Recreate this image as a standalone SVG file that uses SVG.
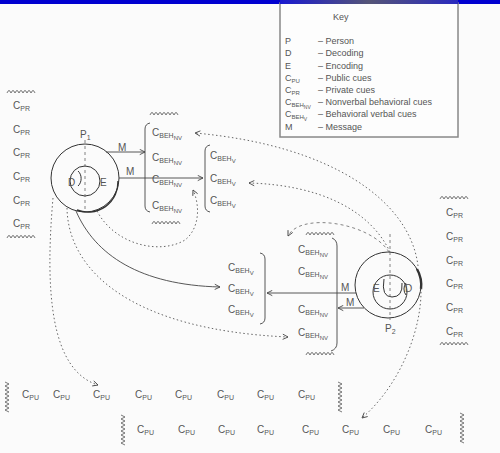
<svg xmlns="http://www.w3.org/2000/svg" width="500" height="453" viewBox="0 0 500 453">
<style>
text{font-family:"Liberation Sans",Arial,sans-serif;fill:#555;}
.c{font-size:10px;}
.s{font-size:7px;}
.ss{font-size:6px;}
.k{font-size:9px;}
.ln{fill:none;stroke:#444;stroke-width:0.9;}
.dt{fill:none;stroke:#555;stroke-width:0.9;stroke-dasharray:1.5,2.5;}
.ds{fill:none;stroke:#666;stroke-width:0.8;stroke-dasharray:3,3;}
.cir{fill:none;stroke:#333;stroke-width:1;}
.wv{fill:none;stroke:#555;stroke-width:0.8;}
</style>
<defs>
<marker id="ah" viewBox="0 0 8 8" refX="7" refY="4" markerWidth="7" markerHeight="7" orient="auto" markerUnits="userSpaceOnUse">
<path d="M1,1 L7,4 L1,7" fill="none" stroke="#444" stroke-width="1"/>
</marker>
<path id="wh" d="M0,3 q2,-5 4,0 q2,-5 4,0 q2,-5 4,0 q2,-5 4,0 q2,-5 4,0 q2,-5 4,0 q2,-5 4,0"/>
<path id="wvt" d="M0,0 l4,2 l-4,2 l4,2 l-4,2 l4,2 l-4,2 l4,2 l-4,2 l4,2 l-4,2 l4,2 l-4,2 l4,2 l-4,2 l4,2"/>
<linearGradient id="tg" x1="0" x2="1" y1="0" y2="0">
<stop offset="0" stop-color="#1a1ad0"/>
<stop offset="0.5" stop-color="#555577"/>
<stop offset="1" stop-color="#2a2ac0"/>
</linearGradient>
</defs>
<rect x="0" y="0" width="500" height="453" fill="#fbfbfb"/>
<rect x="0" y="0" width="500" height="4" fill="#0000d0"/>

<g id="key">
<rect x="280" y="3" width="178" height="134" fill="#fdfdfd" stroke="#888" stroke-width="1.5"/>
<rect x="280" y="0" width="178" height="4" fill="url(#tg)"/>
<text class="k" x="333" y="20">Key</text>
<text class="k" x="285" y="44">P</text><text class="k" x="318" y="44">– Person</text>
<text class="k" x="285" y="56">D</text><text class="k" x="318" y="56">– Decoding</text>
<text class="k" x="285" y="69">E</text><text class="k" x="318" y="69">– Encoding</text>
<text class="k" x="285" y="81">C<tspan class="ss" dy="2">PU</tspan></text><text class="k" x="318" y="81">– Public cues</text>
<text class="k" x="285" y="93">C<tspan class="ss" dy="2">PR</tspan></text><text class="k" x="318" y="93">– Private cues</text>
<text class="k" x="285" y="105">C<tspan class="ss" dy="2">BEH</tspan><tspan style="font-size:5px" dy="2">NV</tspan></text><text class="k" x="318" y="105">– Nonverbal behavioral cues</text>
<text class="k" x="285" y="117">C<tspan class="ss" dy="2">BEH</tspan><tspan style="font-size:5px" dy="2">V</tspan></text><text class="k" x="318" y="117">– Behavioral verbal cues</text>
<text class="k" x="285" y="130">M</text><text class="k" x="318" y="130">– Message</text>
</g>

<g id="left-private-cues">
<use href="#wh" x="7" y="90" class="wv"/>
<text class="c" x="13" y="109">C<tspan class="s" dy="2">PR</tspan></text>
<text class="c" x="13" y="133">C<tspan class="s" dy="2">PR</tspan></text>
<text class="c" x="13" y="156">C<tspan class="s" dy="2">PR</tspan></text>
<text class="c" x="13" y="180">C<tspan class="s" dy="2">PR</tspan></text>
<text class="c" x="13" y="204">C<tspan class="s" dy="2">PR</tspan></text>
<text class="c" x="13" y="227">C<tspan class="s" dy="2">PR</tspan></text>
<use href="#wh" x="7" y="235" class="wv"/>
</g>

<g id="right-private-cues">
<use href="#wh" x="440" y="196" class="wv"/>
<text class="c" x="446" y="216">C<tspan class="s" dy="2">PR</tspan></text>
<text class="c" x="446" y="240">C<tspan class="s" dy="2">PR</tspan></text>
<text class="c" x="446" y="264">C<tspan class="s" dy="2">PR</tspan></text>
<text class="c" x="446" y="287">C<tspan class="s" dy="2">PR</tspan></text>
<text class="c" x="446" y="311">C<tspan class="s" dy="2">PR</tspan></text>
<text class="c" x="446" y="335">C<tspan class="s" dy="2">PR</tspan></text>
<use href="#wh" x="440" y="342" class="wv"/>
</g>

<g id="person1">
<circle class="cir" cx="85" cy="178" r="34"/>
<circle class="cir" cx="85" cy="181" r="15"/>
<path class="cir" d="M78,171 a7,9 0 0 1 0,15"/>
<path d="M118,181 A30,30 0 0 1 77,210" fill="none" stroke="#333" stroke-width="1.4"/>
<line class="ds" x1="85" y1="140" x2="85" y2="212"/>
<text class="c" x="80" y="138">P<tspan class="s" dy="2">1</tspan></text>
<text class="c" x="68" y="186">D</text>
<text class="c" x="100" y="186">E</text>
</g>

<g id="person2">
<circle class="cir" cx="388" cy="285" r="33"/>
<circle class="cir" cx="390" cy="292" r="17"/>
<path class="cir" d="M384,279 Q381,297 392,297 Q403,297 402,283"/>
<path class="cir" d="M406,283 a6,8 0 0 0 0,12"/>
<path d="M417,269 A33,33 0 0 1 421,289" fill="none" stroke="#333" stroke-width="2.4"/>
<line class="ds" x1="390" y1="234" x2="390" y2="320"/>
<text class="c" x="385" y="332">P<tspan class="s" dy="2">2</tspan></text>
<text class="c" x="373" y="292">E</text>
<text class="c" x="405" y="292">D</text>
</g>

<g id="nv-cues-1">
<use href="#wh" x="150" y="112" class="wv"/>
<path class="ln" d="M150,123 Q145,124 145,129 L145,206 Q145,211 150,212"/>
<text class="c" x="152" y="136">C<tspan class="s" dy="2">BEH</tspan><tspan class="ss" dy="2">NV</tspan></text>
<text class="c" x="152" y="161">C<tspan class="s" dy="2">BEH</tspan><tspan class="ss" dy="2">NV</tspan></text>
<text class="c" x="152" y="183">C<tspan class="s" dy="2">BEH</tspan><tspan class="ss" dy="2">NV</tspan></text>
<text class="c" x="152" y="209">C<tspan class="s" dy="2">BEH</tspan><tspan class="ss" dy="2">NV</tspan></text>
<use href="#wh" x="152" y="221" class="wv"/>
</g>

<g id="v-cues-1">
<path class="ln" d="M210,145 Q205,146 205,151 L205,206 Q205,211 210,212"/>
<text class="c" x="210" y="159">C<tspan class="s" dy="2">BEH</tspan><tspan class="ss" dy="2">V</tspan></text>
<text class="c" x="210" y="182">C<tspan class="s" dy="2">BEH</tspan><tspan class="ss" dy="2">V</tspan></text>
<text class="c" x="210" y="204">C<tspan class="s" dy="2">BEH</tspan><tspan class="ss" dy="2">V</tspan></text>
</g>

<g id="v-cues-2">
<path class="ln" d="M260,253 Q265,254 265,259 L265,318 Q265,323 260,324"/>
<text class="c" x="228" y="271">C<tspan class="s" dy="2">BEH</tspan><tspan class="ss" dy="2">V</tspan></text>
<text class="c" x="228" y="292">C<tspan class="s" dy="2">BEH</tspan><tspan class="ss" dy="2">V</tspan></text>
<text class="c" x="228" y="313">C<tspan class="s" dy="2">BEH</tspan><tspan class="ss" dy="2">V</tspan></text>
</g>

<g id="nv-cues-2">
<use href="#wh" x="306" y="232" class="wv"/>
<path class="ln" d="M332,238 Q337,240 337,246 L337,343 Q337,349 331,351"/>
<text class="c" x="298" y="253">C<tspan class="s" dy="2">BEH</tspan><tspan class="ss" dy="2">NV</tspan></text>
<text class="c" x="298" y="275">C<tspan class="s" dy="2">BEH</tspan><tspan class="ss" dy="2">NV</tspan></text>
<text class="c" x="298" y="313">C<tspan class="s" dy="2">BEH</tspan><tspan class="ss" dy="2">NV</tspan></text>
<text class="c" x="298" y="336">C<tspan class="s" dy="2">BEH</tspan><tspan class="ss" dy="2">NV</tspan></text>
<use href="#wh" x="306" y="352" class="wv"/>
</g>

<g id="public-cues-1">
<use href="#wvt" x="5" y="382" class="wv"/>
<text class="c" x="22" y="398">C<tspan class="s" dy="2">PU</tspan></text>
<text class="c" x="53" y="398">C<tspan class="s" dy="2">PU</tspan></text>
<text class="c" x="93" y="398">C<tspan class="s" dy="2">PU</tspan></text>
<text class="c" x="135" y="398">C<tspan class="s" dy="2">PU</tspan></text>
<text class="c" x="175" y="398">C<tspan class="s" dy="2">PU</tspan></text>
<text class="c" x="217" y="398">C<tspan class="s" dy="2">PU</tspan></text>
<text class="c" x="257" y="398">C<tspan class="s" dy="2">PU</tspan></text>
<text class="c" x="298" y="398">C<tspan class="s" dy="2">PU</tspan></text>
<use href="#wvt" x="338" y="382" class="wv"/>
</g>

<g id="public-cues-2">
<use href="#wvt" x="121" y="415" class="wv"/>
<text class="c" x="137" y="433">C<tspan class="s" dy="2">PU</tspan></text>
<text class="c" x="178" y="433">C<tspan class="s" dy="2">PU</tspan></text>
<text class="c" x="218" y="433">C<tspan class="s" dy="2">PU</tspan></text>
<text class="c" x="257" y="433">C<tspan class="s" dy="2">PU</tspan></text>
<text class="c" x="302" y="433">C<tspan class="s" dy="2">PU</tspan></text>
<text class="c" x="342" y="433">C<tspan class="s" dy="2">PU</tspan></text>
<text class="c" x="383" y="433">C<tspan class="s" dy="2">PU</tspan></text>
<text class="c" x="425" y="433">C<tspan class="s" dy="2">PU</tspan></text>
<use href="#wvt" x="460" y="413" class="wv"/>
</g>

<g id="connectors">
<line class="ln" x1="106" y1="152" x2="145" y2="152" marker-end="url(#ah)"/>
<text class="c" x="118" y="151">M</text>
<line class="ln" x1="119" y1="178" x2="203" y2="178" marker-end="url(#ah)"/>
<text class="c" x="126" y="175">M</text>
<line class="ln" x1="356" y1="293" x2="267" y2="293" marker-end="url(#ah)"/>
<text class="c" x="341" y="291">M</text>
<line class="ln" x1="364" y1="308" x2="338" y2="308" marker-end="url(#ah)"/>
<text class="c" x="346" y="306">M</text>
<path class="ln" d="M76,211 C95,255 140,285 220,287" marker-end="url(#ah)"/>
<path class="dt" d="M97,211 C115,245 160,255 185,240 C200,228 200,205 193,190" marker-end="url(#ah)"/>
<path class="dt" d="M67,208 C68,270 130,330 288,337" marker-end="url(#ah)"/>
<path class="dt" d="M53,198 C45,290 50,370 98,385" marker-end="url(#ah)"/>
<path class="dt" d="M418,266 C410,200 330,145 195,133" marker-end="url(#ah)"/>
<path class="dt" d="M421,288 C422,330 400,385 362,418" marker-end="url(#ah)"/>
<path class="dt" d="M390,252 C370,210 320,185 249,183" marker-end="url(#ah)"/>
<path class="ds" d="M389,252 C370,222 300,212 288,236" marker-end="url(#ah)"/>
</g>
</svg>
